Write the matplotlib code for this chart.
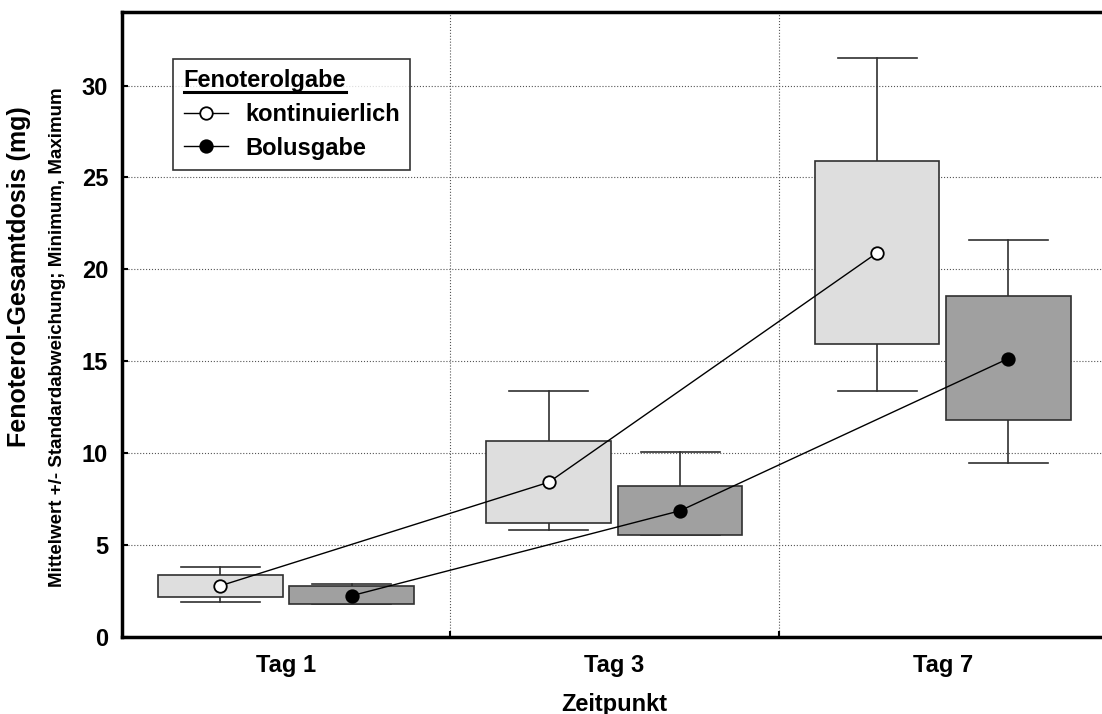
import matplotlib
matplotlib.use("Agg")
import matplotlib.pyplot as plt
from matplotlib.patches import Rectangle
from matplotlib.lines import Line2D

plt.rcParams['font.family'] = ['Liberation Sans', 'DejaVu Sans']
plt.rcParams['font.weight'] = 'bold'

categories = ["Tag 1", "Tag 3", "Tag 7"]
series_names = ["kontinuierlich", "Bolusgabe"]
legend_title = "Fenoterolgabe"

cont_mean = [2.79, 8.42, 20.9]
cont_sd_low = [2.19, 6.18, 15.92]
cont_sd_high = [3.39, 10.65, 25.89]
cont_min = [1.9, 5.8, 13.39]
cont_max = [3.8, 13.39, 31.52]

bol_mean = [2.25, 6.87, 15.15]
bol_sd_low = [1.78, 5.53, 11.79]
bol_sd_high = [2.75, 8.24, 18.53]
bol_min = [1.78, 5.53, 9.49]
bol_max = [2.9, 10.07, 21.58]

fig = plt.figure(figsize=(11.02, 7.14), dpi=100)
ax = fig.add_axes([0.1107, 0.1078, 0.8893, 0.8754])

offset = 0.2
box_w = 0.38
cap_w = 0.24
edge = '#303030'

def draw(pos, mean, lo, hi, mn, mx, face, mfc):
    for p, m, l, h, a, b in zip(pos, mean, lo, hi, mn, mx):
        ax.plot([p, p], [h, b], color=edge, lw=1.2, zorder=2)
        ax.plot([p, p], [a, l], color=edge, lw=1.2, zorder=2)
        ax.plot([p - cap_w / 2, p + cap_w / 2], [b, b], color=edge, lw=1.2, zorder=2)
        ax.plot([p - cap_w / 2, p + cap_w / 2], [a, a], color=edge, lw=1.2, zorder=2)
        ax.add_patch(Rectangle((p - box_w / 2, l), box_w, h - l, facecolor=face,
                               edgecolor=edge, lw=1.2, zorder=3))
    ax.plot(pos, mean, color='black', lw=1.0, marker='o', ms=9, mfc=mfc,
            mec='black', mew=1.3, zorder=5)

x = [1, 2, 3]
draw([v - offset for v in x], cont_mean, cont_sd_low, cont_sd_high, cont_min, cont_max,
     '#dedede', 'white')
draw([v + offset for v in x], bol_mean, bol_sd_low, bol_sd_high, bol_min, bol_max,
     '#a0a0a0', 'black')

ax.set_xlim(0.5, 3.485)
ax.set_ylim(0, 34)
ax.set_xticks(x)
ax.set_xticklabels(categories, fontsize=17, fontweight='bold')
ax.set_xticks([1.5, 2.5], minor=True)
ax.tick_params(axis='x', which='major', length=0, pad=12)
ax.tick_params(axis='x', which='minor', length=4, width=1.5, direction='in')
ax.set_yticks([0, 5, 10, 15, 20, 25, 30])
ax.set_yticklabels(['0', '5', '10', '15', '20', '25', '30'], fontsize=17, fontweight='bold')
ax.tick_params(axis='y', length=4, width=1.5, direction='in', pad=10)

ax.grid(axis='y', which='major', linestyle=':', color='#555555', lw=0.8, zorder=0)
ax.grid(axis='x', which='minor', linestyle=':', color='#555555', lw=0.8, zorder=0)
ax.set_axisbelow(True)

for s in ['left', 'bottom', 'top']:
    ax.spines[s].set_linewidth(2.5)
ax.spines['right'].set_visible(False)

fig.text(0.557, 0.013, 'Zeitpunkt', fontsize=17, fontweight='bold', ha='center', va='center')
fig.text(0.017, 0.612, 'Fenoterol-Gesamtdosis (mg)', rotation=90, fontsize=18,
         fontweight='bold', ha='center', va='center')
fig.text(0.052, 0.528, 'Mittelwert +/- Standardabweichung; Minimum, Maximum', rotation=90,
         fontsize=13.5, fontweight='bold', ha='center', va='center')

handles = [Line2D([], [], color='black', lw=1.0, marker='o', ms=9, mfc='white', mec='black', mew=1.3),
           Line2D([], [], color='black', lw=1.0, marker='o', ms=9, mfc='black', mec='black', mew=1.3)]
leg = ax.legend(handles, series_names, title=legend_title, loc='upper left',
                bbox_to_anchor=(0.052, 0.925), borderaxespad=0, fontsize=17, title_fontsize=17,
                frameon=True, fancybox=False, edgecolor='black', handlelength=1.9,
                handletextpad=0.7, borderpad=0.45, labelspacing=0.45, alignment='left')
leg.get_frame().set_linewidth(1.2)
leg.get_title().set_fontweight('bold')
for t in leg.get_texts():
    t.set_fontweight('bold')

fig.canvas.draw()
# underline the legend title
tb = leg.get_title().get_window_extent()
inv = fig.transFigure.inverted()
(x0, y0), (x1, y1) = inv.transform([[tb.x0, tb.y0], [tb.x1, tb.y0]])
fig.add_artist(Line2D([x0, x1], [y0 + 0.001, y0 + 0.001], color='black', lw=2.2,
                      transform=fig.transFigure))

fig.savefig('out.png', dpi=100)
